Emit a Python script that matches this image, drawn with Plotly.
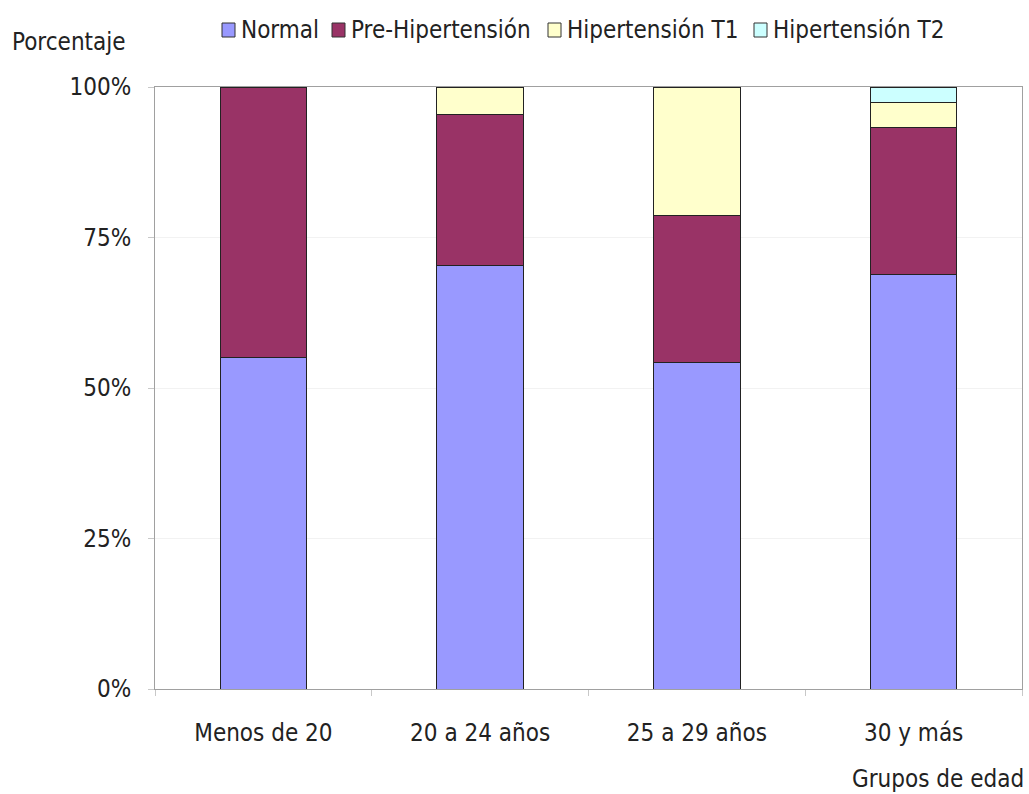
import plotly.graph_objects as go

categories = ["Menos de 20", "20 a 24 años", "25 a 29 años", "30 y más"]
series_names = ["Normal", "Pre-Hipertensión", "Hipertensión T1", "Hipertensión T2"]
normal = [55.0, 70.4, 54.2, 68.9]
pre_hipertension = [45.0, 25.1, 24.4, 24.3]
hipertension_t1 = [0.0, 4.5, 21.4, 4.3]
hipertension_t2 = [0.0, 0.0, 0.0, 2.5]
y_ticks = [0, 25, 50, 75, 100]
y_tick_labels = ["0%", "25%", "50%", "75%", "100%"]

colors = ["#9999FF", "#993366", "#FFFFCC", "#CCFFFF"]
values = [normal, pre_hipertension, hipertension_t1, hipertension_t2]

FONT = "DejaVu Sans Condensed, DejaVu Sans, sans-serif"
W, H = 1029, 794
ML, MR, MT, MB = 155, 7, 87, 105
plot_w = W - ML - MR
plot_h = H - MT - MB


def px_x(x):
    return (x - ML) / plot_w


def px_y(y):
    return (H - MB - y) / plot_h


fig = go.Figure()
for name, vals, col in zip(series_names, values, colors):
    fig.add_trace(go.Bar(
        x=categories, y=vals, name=name,
        marker=dict(color=col, line=dict(color="#222222", width=1)),
        showlegend=False,
    ))

annotations = [
    dict(text="Porcentaje", x=px_x(10), y=px_y(42), xref="paper", yref="paper",
         xanchor="left", yanchor="middle", showarrow=False),
    dict(text="Grupos de edad", x=px_x(1026), y=px_y(779), xref="paper", yref="paper",
         xanchor="right", yanchor="middle", showarrow=False),
]
shapes = []
legend_box_x = [222, 332, 548, 754]
legend_y = 30
for name, col, bx in zip(series_names, colors, legend_box_x):
    shapes.append(dict(type="rect", xref="paper", yref="paper",
                       x0=px_x(bx), x1=px_x(bx + 13), y0=px_y(legend_y + 7), y1=px_y(legend_y - 7),
                       fillcolor=col, line=dict(color="#333333", width=1)))
    annotations.append(dict(text=name, x=px_x(bx + 17), y=px_y(legend_y), xref="paper",
                            yref="paper", xanchor="left", yanchor="middle", showarrow=False))

fig.update_layout(
    width=W, height=H,
    barmode="stack", bargap=0.6,
    paper_bgcolor="white", plot_bgcolor="white",
    margin=dict(l=ML, r=MR, t=MT, b=MB),
    font=dict(family=FONT, size=24, color="#222222"),
    showlegend=False,
    annotations=annotations,
    shapes=shapes,
)

fig.update_xaxes(
    showline=True, linecolor="#a0a0a0", linewidth=1, mirror=True,
    ticks="outside", tickson="boundaries", ticklen=6, tickcolor="#c8c8c8",
    showgrid=False, ticklabelstandoff=22,
)
fig.update_yaxes(
    range=[0, 100], tickvals=y_ticks, ticktext=y_tick_labels,
    showline=True, linecolor="#a0a0a0", linewidth=1, mirror=True,
    ticks="outside", ticklen=6, tickcolor="#c8c8c8",
    showgrid=True, gridcolor="#f2f2f2", gridwidth=1, zeroline=False,
    ticklabelstandoff=12,
)

fig.write_html("out.html", config={"displayModeBar": False},
               post_script="document.body.style.margin='0';")
